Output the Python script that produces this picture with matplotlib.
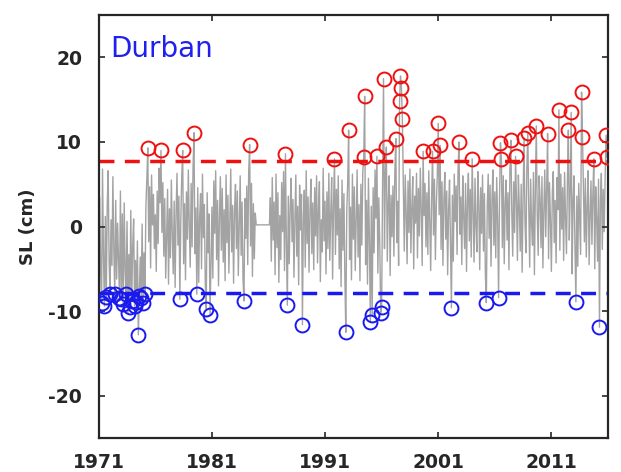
import numpy as np
import matplotlib
matplotlib.use("Agg")
import matplotlib.pyplot as plt

plt.rcParams["axes.unicode_minus"] = False

# monthly sea level anomaly (cm), Durban, one row per year 1971-2015
sl = [
    [-2.1, 3.5, -5.2, -9.0, 6.8, -3.4, -9.4, 1.2, -8.3, 2.6, 6.6, -4.1],   # 1971
    [-8.0, 0.8, -4.6, 5.9, -2.7, -8.0, 3.1, -6.2, 0.4, -3.8, -8.4, 4.2],   # 1972
    [-8.6, 1.5, -9.2, 2.8, -5.1, -8.0, 0.6, -10.2, -3.3, -9.5, 1.9, -8.8], # 1973
    [-2.4, 0.9, -9.4, -4.0, -8.9, -1.7, -12.8, -8.2, -3.6, -8.5, 0.3, -9.0],  # 1974
    [-3.1, -8.0, 2.4, 5.6, 9.3, -1.8, 4.7, -4.9, 6.1, 0.2, 3.8, -2.6],     # 1975
    [1.4, -5.3, 4.2, -2.0, 6.9, 2.8, 9.0, -0.7, 5.2, -3.5, 3.3, -6.1],     # 1976
    [-1.2, 4.4, -6.8, 2.1, -3.7, 5.5, -0.9, -5.6, 3.0, -7.2, 1.6, 6.3],    # 1977
    [-2.2, 3.6, -8.6, 0.5, 5.8, 9.0, -4.4, 2.7, -6.3, 4.1, -1.5, 6.7],     # 1978
    [0.3, -4.8, 5.1, -2.4, 7.0, 11.1, -3.2, 2.2, -8.0, 4.6, -6.6, 1.1],    # 1979
    [3.9, -5.0, 6.2, -1.3, 2.6, -6.9, -9.7, 4.0, -3.1, 1.5, -10.4, -4.6],  # 1980
    [2.3, -6.1, 5.4, -0.8, 6.6, -3.9, 3.1, -7.0, 1.2, 5.9, -2.8, 4.5],     # 1981
    [-4.2, 2.0, -6.4, 6.1, -1.9, 3.7, -5.5, 0.9, 6.8, -3.0, 2.5, -6.7],    # 1982
    [1.8, 5.0, -2.6, 4.2, -5.8, 0.4, 6.0, -3.4, 2.9, -6.2, -8.8, 3.3],     # 1983
    [-1.4, 4.8, -4.5, 6.4, 9.7, -2.3, 5.1, -5.9, 2.7, -3.8, 1.6, 0.2],     # 1984
    [0.2, 0.2, 0.2, 0.2, 0.2, 0.2, 0.2, 0.2, 0.2, 0.2, 0.2, 0.2],          # 1985 (gap)
    [0.2, 0.2, 3.4, -4.1, 5.8, -1.6, 2.9, -5.7, 6.2, -2.5, 4.0, -6.6],     # 1986
    [1.3, -3.9, 5.2, -0.6, 6.5, -5.2, 8.6, -2.1, -9.3, 3.6, -4.4, 2.2],    # 1987
    [5.7, -1.8, 3.2, -6.0, 0.7, 6.1, -3.5, 2.4, -6.9, 4.9, -0.4, 3.8],     # 1988
    [-11.6, 1.0, 4.3, -4.8, 6.6, -2.0, 3.5, -5.4, 1.9, 5.6, -3.2, 2.8],    # 1989
    [-5.1, 4.6, -1.1, 6.0, -4.3, 2.0, 5.3, -6.5, 0.8, -3.0, 6.9, -1.7],    # 1990
    [3.0, -5.6, 4.1, -2.6, 6.3, -4.0, 1.4, 5.8, -6.2, 2.6, 8.0, -3.3],     # 1991
    [4.4, -1.0, 6.0, -5.0, 2.1, -7.1, 5.5, -2.8, 3.9, -6.0, -12.5, 1.7],   # 1992
    [5.2, 11.4, -3.9, 2.3, -6.3, 6.2, -1.5, 4.7, -5.2, 0.9, 6.7, -3.6],    # 1993
    [2.6, -6.4, 5.0, -2.2, 6.4, 8.2, 15.4, -4.5, 3.1, -6.8, 5.7, -1.4],    # 1994
    [-11.3, 2.4, -10.4, 4.6, -3.1, 6.7, 1.0, 8.3, -5.5, 3.4, -2.0, -10.2], # 1995
    [-9.5, 5.0, 17.5, -2.6, 6.3, 9.4, -4.1, 2.8, 6.0, -5.8, 3.7, -1.2],    # 1996
    [4.8, -3.5, 6.5, 10.4, -1.9, 3.0, -4.6, 14.8, 17.8, 16.4, 12.7, 5.2],  # 1997
    [-2.9, 6.1, 1.6, -4.4, 5.4, -0.7, 6.8, -3.1, 2.2, 5.9, -5.0, 3.6],     # 1998
    [0.4, 6.3, -3.7, 4.5, -1.1, 6.9, 2.0, -4.6, 8.9, 1.3, 5.1, -2.4],      # 1999
    [4.0, -3.3, 6.6, 0.8, -5.2, 3.4, 8.9, -1.0, 5.6, -3.9, 2.6, 6.0],      # 2000
    [12.2, 1.4, 9.6, -2.7, 5.3, -4.6, 3.1, 6.4, -1.5, 4.2, -5.7, 2.0],     # 2001
    [5.5, -2.0, -9.6, 3.7, -4.1, 6.2, 0.6, 4.8, -3.3, 6.6, 10.0, -0.9],    # 2002
    [3.5, -4.5, 6.0, 1.2, -2.6, 5.1, -5.3, 3.0, 6.3, -1.7, 4.4, -3.6],     # 2003
    [8.0, 2.2, -4.2, 5.7, 0.1, -3.0, 6.5, 2.7, -5.1, 4.6, -0.8, 6.1],      # 2004
    [-2.9, 3.9, -5.6, -9.0, 2.4, 6.2, -1.4, 4.9, -4.7, 3.2, 6.7, -2.2],    # 2005
    [4.1, -3.7, 5.8, 0.9, -8.4, 3.3, 9.9, 8.0, -2.5, 6.0, -4.4, 2.7],      # 2006
    [5.5, -1.6, 4.0, -5.1, 6.6, 10.2, 1.8, -3.5, 5.3, -0.7, 8.3, 3.0],     # 2007
    [-4.0, 6.1, 2.2, -2.9, 5.0, -5.4, 3.5, 10.5, 0.6, -3.1, 6.9, 11.1],    # 2008
    [2.4, -4.8, 5.6, 0.2, -2.2, 6.4, -5.7, 4.1, 11.9, 1.5, -3.4, 6.0],     # 2009
    [3.2, -2.5, 5.9, -4.9, 1.9, 6.7, -1.2, 4.5, 11.0, -3.8, 5.2, 0.8],     # 2010
    [-5.3, 4.0, 6.5, -1.9, 3.1, -4.3, 5.8, 2.0, 13.8, -2.8, 6.2, -0.3],    # 2011
    [4.6, -4.0, 6.4, 1.1, -3.2, 5.3, 11.4, -1.6, 4.2, 13.5, -5.6, 2.9],    # 2012
    [6.0, -2.4, -8.9, 3.6, -4.7, 5.1, 0.7, -3.3, 15.9, 10.6, 4.3, -1.8],   # 2013
    [5.7, -3.6, 2.5, 6.6, -4.5, 1.3, 5.4, -2.1, 3.8, 8.0, -5.0, 4.7],      # 2014
    [0.9, -4.1, 5.6, -11.9, 3.0, 6.3, -2.7, 4.4, -0.6, 5.9, 10.8, 8.2],    # 2015
]
start_year = 1971
thr_hi = 7.8
thr_lo = -7.8
xticks = [1971, 1981, 1991, 2001, 2011]
yticks = [-20, -10, 0, 10, 20]

y = np.array(sl).ravel()
t = start_year + np.arange(len(y)) / 12.0
hi = y > thr_hi
lo = y < thr_lo

fig = plt.figure(figsize=(6.21, 4.72), dpi=100)
ax = fig.add_axes([0.159, 0.072, 0.82, 0.896])

ax.plot(t, y, color="#a3a3a3", lw=1.0, zorder=1)
ax.axhline(thr_hi, color="#ee1111", lw=2.5, dashes=(4.3, 3.0), zorder=2)
ax.axhline(thr_lo, color="#1a1aee", lw=2.5, dashes=(4.3, 3.0), zorder=2)
ax.plot(t[hi], y[hi], "o", mfc="none", mec="#ee1111", mew=1.4, ms=10, zorder=3)
ax.plot(t[lo], y[lo], "o", mfc="none", mec="#1a1aee", mew=1.4, ms=10, zorder=3)

ax.text(1972.0, 21, "Durban", color="#2020ee", fontsize=20, va="center", ha="left")

ax.set_xlim(1971, 2016)
ax.set_ylim(-25, 25)
ax.set_xticks(xticks)
ax.set_yticks(yticks)
ax.tick_params(direction="in", top=True, right=True, length=4, width=1.2,
               labelsize=13.5, colors="#262626")
ax.tick_params(axis="x", pad=11)
ax.tick_params(axis="y", pad=12)
for lab in ax.get_xticklabels() + ax.get_yticklabels():
    lab.set_fontweight("bold")
for s in ax.spines.values():
    s.set_linewidth(1.6)
    s.set_color("#262626")
ax.set_ylabel("SL (cm)", fontsize=13, fontweight="bold", color="#262626", labelpad=8)

fig.savefig("out.png", dpi=100)
